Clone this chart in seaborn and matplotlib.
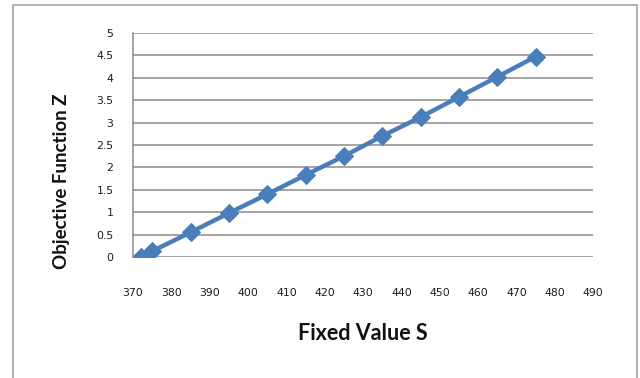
import matplotlib
matplotlib.use("Agg")
import matplotlib.pyplot as plt
from matplotlib.patches import Rectangle
import seaborn as sns
import pandas as pd

# Fixed value S against the objective function Z
fixed_value_s = [372, 375, 385, 395, 405, 415, 425, 435, 445, 455, 465, 475]
objective_z = [0.0, 0.13, 0.55, 0.98, 1.40, 1.83, 2.25, 2.70, 3.12, 3.57, 4.02, 4.47]
x_ticks = list(range(370, 491, 10))
y_ticks = [0, 0.5, 1, 1.5, 2, 2.5, 3, 3.5, 4, 4.5, 5]
y_tick_labels = ["0", "0.5", "1", "1.5", "2", "2.5", "3", "3.5", "4", "4.5", "5"]

df = pd.DataFrame({"S": fixed_value_s, "Z": objective_z})

sns.set_style("white")
plt.rcParams["font.family"] = ["Lato", "DejaVu Sans"]

fig = plt.figure(figsize=(6.4, 3.78), dpi=100)
ax = fig.add_axes([133 / 640, 1 - 257 / 378, 460 / 640, 224 / 378])

# outer chart frame
fig.patches.append(Rectangle((13 / 640, -0.05), 624 / 640, 1 - 5 / 378 + 0.05,
                             transform=fig.transFigure, fill=False,
                             edgecolor="#a6a6a6", linewidth=1.2))

sns.lineplot(data=df, x="S", y="Z", ax=ax, color="#4a7ebb", linewidth=3.2,
             marker="D", markersize=9, markeredgecolor="#4a7ebb")

ax.set_xlim(370, 490)
ax.set_ylim(0, 5)
ax.set_xticks(x_ticks)
ax.set_yticks(y_ticks)
ax.set_yticklabels(y_tick_labels)
ax.yaxis.grid(True, color="#8c8c8c", linewidth=1.1)
ax.xaxis.grid(False)
for side in ["top", "right", "bottom"]:
    ax.spines[side].set_visible(False)
ax.spines["left"].set_color("#8c8c8c")
ax.spines["left"].set_linewidth(1.1)
ax.tick_params(axis="both", length=0, labelsize=7.8, colors="#1a1a1a")
for lab in ax.get_xticklabels() + ax.get_yticklabels():
    lab.set_family("DejaVu Sans")
ax.tick_params(axis="x", pad=22)
ax.tick_params(axis="y", pad=14)
ax.set_xlabel("")
ax.set_ylabel("")

fig.text(363 / 640, 1 - 333 / 378, "Fixed Value S", ha="center", va="center",
         fontsize=15.5, fontweight="bold", color="#111111")
fig.text(62 / 640, 1 - 181 / 378, "Objective Function Z", ha="center", va="center",
         rotation=90, fontsize=13.5, fontweight="bold", color="#111111")

fig.savefig("out.png", dpi=100)
